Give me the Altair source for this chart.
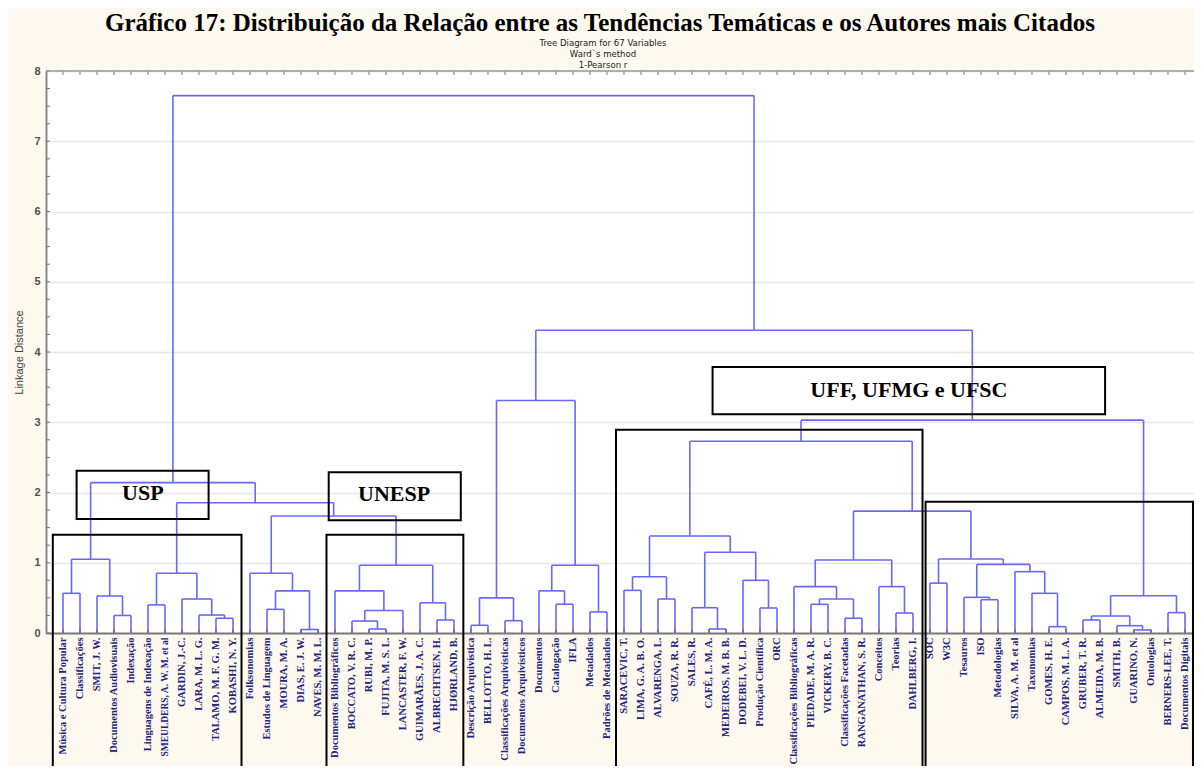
import json
import altair as alt
import pandas as pd

# ---------------- data ----------------
leaves = [
    "Música e Cultura Popular", "Classificações", "SMIT, J. W.", "Documentos Audiovisuais", "Indexação",
    "Linguagens de Indexação", "SMEULDERS, A. W. M. et al", "GARDIN, J.-C.", "LARA, M. L. G.",
    "TALAMO, M. F. G. M.", "KOBASHI, N. Y.",
    "Folksonomias", "Estudos de Linguagem", "MOURA, M. A.", "DIAS, E. J. W.", "NAVES, M. M. L.",
    "Documentos Bibliográficos", "BOCCATO, V. R. C.", "RUBI, M. P.", "FUJITA, M. S. L.", "LANCASTER, F. W.",
    "GUIMARÃES, J. A. C.", "ALBRECHTSEN, H.", "HJØRLAND, B.",
    "Descrição Arquivística", "BELLOTTO, H. L.", "Classificações Arquivísticas", "Documentos Arquivísticos",
    "Documentos", "Catalogação", "IFLA", "Metadados", "Padrões de Metadados",
    "SARACEVIC, T.", "LIMA, G. A. B. O.", "ALVARENGA, L.", "SOUZA, R. R.", "SALES, R.", "CAFÉ, L. M. A.",
    "MEDEIROS, M. B. B.", "DODEBEI, V. L. D.", "Produção Científica", "ORC",
    "Classificações Bibliográficas", "PIEDADE, M. A. R.", "VICKERY, B. C.", "Classificações Facetadas",
    "RANGANATHAN, S. R.", "Conceitos", "Teorias", "DAHLBERG, I.",
    "SOC", "W3C", "Tesauros", "ISO", "Metodologias", "SILVA, A. M. et al", "Taxonomias", "GOMES, H. E.",
    "CAMPOS, M. L. A.", "GRUBER, T. R.", "ALMEIDA, M. B.", "SMITH, B.", "GUARINO, N.", "Ontologias",
    "BERNERS-LEE, T.", "Documentos Digitais",
]

# merges: (left, right, linkage distance); ints = leaf number (1-based), "cN" = N-th merge
merges = [
    (1, 2, 0.565), (4, 5, 0.25), (3, "c2", 0.527), ("c1", "c3", 1.05),
    (6, 7, 0.40), (10, 11, 0.21), (9, "c6", 0.256), (8, "c7", 0.484), ("c5", "c8", 0.85),
    (13, 14, 0.337), (15, 16, 0.05), ("c10", "c11", 0.60), (12, "c12", 0.85),
    (19, 20, 0.057), (18, "c14", 0.17), ("c15", 21, 0.32), (17, "c16", 0.60),
    (23, 24, 0.185), (22, "c18", 0.43), ("c17", "c19", 0.965),
    ("c13", "c20", 1.665), ("c9", "c21", 1.855), ("c4", "c22", 2.14),
    (25, 26, 0.11), (27, 28, 0.175), ("c24", "c25", 0.50), (30, 31, 0.41), (29, "c27", 0.60),
    (32, 33, 0.30), ("c28", "c29", 0.965), ("c26", "c30", 3.31),
    (34, 35, 0.607), (36, 37, 0.484), ("c32", "c33", 0.80), (39, 40, 0.057), (38, "c35", 0.36),
    (42, 43, 0.356), (41, "c37", 0.75), ("c36", "c38", 1.15), ("c34", "c39", 1.38),
    (45, 46, 0.408), (47, 48, 0.21), ("c41", "c42", 0.484), (44, "c43", 0.66),
    (50, 51, 0.285), (49, "c45", 0.66), ("c44", "c46", 1.04),
    (52, 53, 0.71), (55, 56, 0.474), (54, "c49", 0.508), (59, 60, 0.09), (58, "c51", 0.565),
    (57, "c52", 0.873), ("c50", "c53", 0.977), ("c48", "c54", 1.053),
    (61, 62, 0.185), (64, 65, 0.043), (63, "c57", 0.104), ("c56", "c58", 0.242),
    (66, 67, 0.29), ("c59", "c60", 0.53),
    ("c47", "c55", 1.735), ("c40", "c62", 2.73), ("c63", "c61", 3.03),
    ("c31", "c64", 4.31), ("c23", "c65", 7.65),
]

# annotation boxes (leaf-index units, linkage-distance units)
box_x1 = [1.80, 16.63, 39.21, 0.40, 16.50, 33.53, 51.74]
box_x2 = [9.565, 24.40, 62.30, 11.50, 24.55, 51.56, 67.47]
box_y1 = [2.31, 2.288, 3.786, 1.399, 1.399, 2.894, 1.869]
box_y2 = [1.623, 1.604, 3.113, -2.6, -2.6, -2.6, -2.6]
box_text = ["USP", "UNESP", "UFF, UFMG e UFSC"]
box_text_x = [5.70, 20.48, 50.76]
box_text_y = [1.99, 1.974, 3.459]

title_main = "Gráfico 17: Distribuição da Relação entre as Tendências Temáticas e os Autores mais Citados"
subtitle_lines = ["Tree Diagram for 67  Variables", "Ward`s method", "1-Pearson r"]

X_MAX = 67.53
BLUE = "#6868ff"
CREAM = "#fdf9ef"

# ---------------- build segments ----------------
pos = {}


def locate(ref):
    if isinstance(ref, int):
        return float(ref), 0.0
    return pos[ref]


rows = []
for i, (a, b, h) in enumerate(merges, start=1):
    xa, ha = locate(a)
    xb, hb = locate(b)
    rows.append({"x": xa, "x2": xa, "y": ha, "y2": h})
    rows.append({"x": xb, "x2": xb, "y": hb, "y2": h})
    rows.append({"x": xa, "x2": xb, "y": h, "y2": h})
    pos[f"c{i}"] = ((xa + xb) / 2.0, h)
seg_df = pd.DataFrame(rows)

leaf_df = pd.DataFrame({"x": list(range(1, len(leaves) + 1))})
minor_df = pd.DataFrame({"y": [i / 4 for i in range(33)]})
border_df = pd.DataFrame({"x": [0.0], "x2": [X_MAX], "y": [8.0]})
box_df = pd.DataFrame({"x": box_x1, "x2": box_x2, "y": box_y1, "y2": box_y2})
boxtxt_df = pd.DataFrame({"t": box_text, "x": box_text_x, "y": box_text_y})
sub_df = pd.DataFrame({"t": ["\n".join(subtitle_lines)]})
title_df = pd.DataFrame({"t": [title_main]})

xs = alt.Scale(domain=[0, X_MAX], nice=False, zero=False)
ys = alt.Scale(domain=[0, 8], nice=False, zero=False)

label_expr = json.dumps(leaves, ensure_ascii=False) + "[datum.value - 1]"
long_label = leaves.index("SMEULDERS, A. W. M. et al") + 1

x_axis = alt.Axis(
    values=list(range(1, len(leaves) + 1)), labelExpr=label_expr, labelAngle=270,
    labelFont="Liberation Serif", labelFontWeight="bold",
    labelFontSize={"condition": {"test": f"datum.value == {long_label}", "value": 9.5}, "value": 10.5},
    labelColor="#232380",
    labelPadding=4, labelOverlap=False, labelFlush=False, labelLimit=400, ticks=False, grid=False,
    domainColor="#7a7a7a", domainWidth=2, title="",
)
y_axis = alt.Axis(
    values=list(range(0, 9)), format="d", grid=True, gridColor="#e8e8e8", gridWidth=1.5,
    ticks=False, domainColor="#8a8a8a", domainWidth=2,
    labelFont="Liberation Sans", labelFontWeight="bold", labelFontSize=11, labelColor="#505050",
    labelPadding=6, title="Linkage Distance", titleFont="Liberation Sans", titleFontWeight="normal",
    titleFontSize=11, titleColor="#444444", titlePadding=9,
)


def X(field):
    return alt.X(field, scale=xs, axis=x_axis)


def Y(field):
    return alt.Y(field, scale=ys, axis=y_axis)


segments = alt.Chart(seg_df).mark_rule(color=BLUE, strokeWidth=1.6).encode(
    x=X("x:Q"), x2="x2:Q", y=Y("y:Q"), y2="y2:Q",
)
bottom_ticks = alt.Chart(leaf_df).mark_rule(color="#666666", strokeWidth=1).encode(
    x=X("x:Q"), y=alt.value(562), y2=alt.value(558)
)
top_ticks = alt.Chart(leaf_df).mark_rule(color="#777777", strokeWidth=1).encode(
    x=X("x:Q"), y=alt.value(0), y2=alt.value(4)
)
minor_ticks = alt.Chart(minor_df).mark_rule(color="#777777", strokeWidth=1).encode(
    y=Y("y:Q"), x=alt.value(0), x2=alt.value(4)
)
border = alt.Chart(border_df).mark_rule(color="#9a9a9a", strokeWidth=1.5).encode(
    x=X("x:Q"), x2="x2:Q", y=Y("y:Q")
)
boxes = alt.Chart(box_df).mark_rect(fillOpacity=0, stroke="black", strokeWidth=2).encode(
    x=X("x:Q"), x2="x2:Q", y=Y("y:Q"), y2="y2:Q",
)
box_labels = alt.Chart(boxtxt_df).mark_text(
    font="Liberation Serif", fontWeight="bold", fontSize=22, color="black", baseline="middle", align="center"
).encode(
    x=X("x:Q"), y=Y("y:Q"), text="t:N"
)
subtitles = alt.Chart(sub_df).mark_text(
    font="Liberation Sans Narrow, Arial Narrow, DejaVu Sans Condensed, sans-serif", fontSize=9.5,
    color="#222222", baseline="top", align="center", lineBreak="\n", lineHeight=11
).encode(
    x=alt.value(557), y=alt.value(-33.5), text="t:N"
)
main_title = alt.Chart(title_df).mark_text(
    font="Liberation Serif", fontWeight="bold", fontSize=25, color="black", baseline="alphabetic", align="center"
).encode(
    x=alt.value(554), y=alt.value(-40), text="t:N"
)

chart = alt.layer(
    segments, boxes, bottom_ticks, top_ticks, minor_ticks, border, box_labels, subtitles, main_title
).properties(
    width=1148, height=562,
    autosize=alt.AutoSizeParams(type="none"),
    padding={"left": 38, "top": 63, "right": 0, "bottom": 133},
    background=CREAM,
).configure_view(fill="white", stroke="transparent")

chart.save("out.html", embed_options={"renderer": "svg", "actions": False})
